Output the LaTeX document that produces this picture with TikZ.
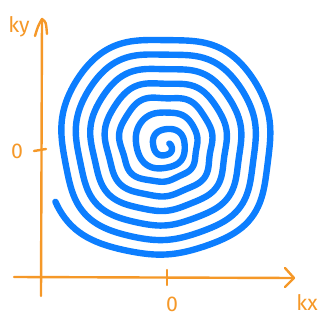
\documentclass[tikz,border=0pt]{standalone}
\usepackage{fontspec}
\setmainfont{Fira Sans}
\definecolor{axorange}{RGB}{245,152,40}
\definecolor{spblue}{RGB}{12,126,255}
\begin{document}
\begin{tikzpicture}[x=0.75pt,y=-0.75pt,
  axis/.style={draw=axorange, line width=1.8pt, line cap=round, line join=round},
  spiral/.style={draw=spblue, line width=4.8pt, line cap=round, line join=round},
  lbl/.style={text=axorange, inner sep=0pt, font=\fontsize{16}{18}\selectfont},
  declare function={
    sb(\u)=28+15*\u;
    sr(\u)=sb(\u)*(1-0.03*cos(4*(180-360*\u)))-5*min(1,max(0,(\u+1)/1.5))*cos(225-360*\u)+1.2*sin(7*(180-360*\u))*min(1,max(0,\u))+200*max(0,\u-5.78)*max(0,\u-5.78);}]
\path[use as bounding box] (0,0) rectangle (321,323);
% axes
\coordinate (yb) at (41,296);
\coordinate (yt) at (42,19);
\coordinate (xl) at (14,277);
\coordinate (xr) at (294,278);
\draw[axis] (yb) -- (yt);
\draw[axis] (xl) -- (xr);
% arrow heads
\coordinate (yal) at (35,36);
\coordinate (yar) at (47,34);
\draw[axis] (yal) .. controls (38,26) .. (yt) .. controls (46,22) .. (yar);
\coordinate (xau) at (285,268);
\coordinate (xad) at (285,287);
\draw[axis] (xau) -- (xr) -- (xad);
% ticks
\coordinate (tx1) at (167,270);
\coordinate (tx2) at (167,285);
\draw[axis] (tx1) -- (tx2);
\coordinate (ty1) at (34,151);
\coordinate (ty2) at (46,149);
\draw[axis] (ty1) -- (ty2);
% labels
\node[lbl] (ky) at (19,27) {ky};
\node[lbl] (kx) at (307,302) {kx};
\node[lbl] (zy) at (17,151) {0};
\node[lbl] (zx) at (172,304) {0};
% spiral
\draw[spiral] plot[domain=-1.6:5.93, samples=1200, variable=\u]
  ({166+sr(\u)*cos(180-360*\u)}, {146-sr(\u)*sin(180-360*\u)});
\end{tikzpicture}
\end{document}
